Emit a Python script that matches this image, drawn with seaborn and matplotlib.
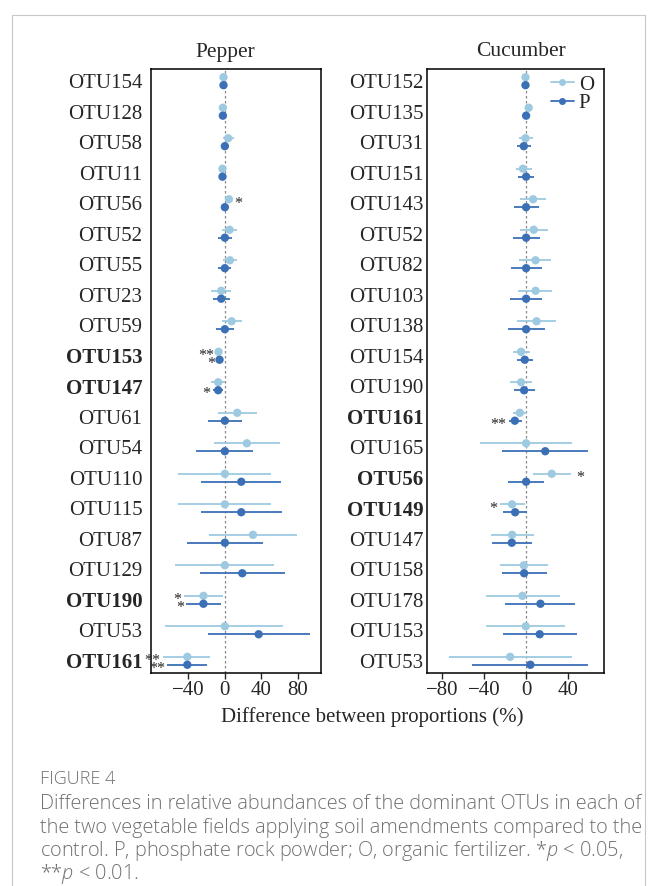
"""
Figure 4 — differences in relative abundance of dominant OTUs
(Pepper / Cucumber fields, O = organic fertilizer, P = phosphate rock powder)
"""
import matplotlib.pyplot as plt
import numpy as np
import pandas as pd
import seaborn as sns
from matplotlib.lines import Line2D
from matplotlib.patches import Rectangle

# ---------------------------------------------------------------------------
# data (% difference vs control, with CI bounds)
# ---------------------------------------------------------------------------
PEPPER_OTU = ["OTU154", "OTU128", "OTU58", "OTU11", "OTU56", "OTU52", "OTU55",
              "OTU23", "OTU59", "OTU153", "OTU147", "OTU61", "OTU54", "OTU110",
              "OTU115", "OTU87", "OTU129", "OTU190", "OTU53", "OTU161"]
PEPPER_O = [-1.5, -2.2, 3.6, -2.6, 4.4, 5.1, 5.5, -4, 7.3, -6.9,
            -7.3, 13.5, 24, 0, 0, 30.7, 0, -23.4, 0, -41]
PEPPER_O_LO = [-2.5, -3, -1.5, -3.5, 3.4, -2.9, -2.2, -14.6, -3.6, -9,
               -15, -7.7, -12, -50.7, -50.7, -17, -54, -45, -65, -68]
PEPPER_O_HI = [-0.5, -1.4, 9.5, -1.7, 5.4, 13.5, 13.5, 6.9, 19, -5,
               0, 35, 60, 50.7, 50.7, 79, 54, -1.5, 64, -16]
PEPPER_P = [-1.5, -2.2, 0, -2.6, 0, 0, 0, -4, 0, -5.8,
            -7.3, 0, 0, 17.9, 17.9, 0, 19, -23.4, 36.9, -41]
PEPPER_P_LO = [-2.5, -3, -4.4, -3.5, -1, -7.3, -7.3, -13, -10.2, -7.5,
               -13, -18.6, -31, -26, -26, -41.6, -27.7, -42, -18.6, -63]
PEPPER_P_HI = [-0.5, -1.4, 4.4, -1.7, 1, 7.3, 6.9, 5.1, 10.2, -4,
               -1.5, 18.6, 31, 61.7, 62, 41.6, 65.7, -4, 93, -19.7]
PEPPER_BOLD = ["OTU153", "OTU147", "OTU190", "OTU161"]
# (otu, group, stars, side)
PEPPER_STARS = [("OTU56", "O", "*", "right"),
                ("OTU153", "O", "**", "left"), ("OTU153", "P", "*", "left"),
                ("OTU147", "P", "*", "left"),
                ("OTU190", "O", "*", "left"), ("OTU190", "P", "*", "left"),
                ("OTU161", "O", "**", "left"), ("OTU161", "P", "**", "left")]

CUC_OTU = ["OTU152", "OTU135", "OTU31", "OTU151", "OTU143", "OTU52", "OTU82",
           "OTU103", "OTU138", "OTU154", "OTU190", "OTU161", "OTU165", "OTU56",
           "OTU149", "OTU147", "OTU158", "OTU178", "OTU153", "OTU53"]
CUC_O = [-0.6, 2.5, -0.6, -3, 6.7, 7.3, 9, 9, 10, -4.8,
         -4.8, -6, 0, 24.5, -13.4, -13.4, -2.2, -3.5, -0.3, -15.3]
CUC_O_LO = [-1.5, 1, -7, -10, -5.4, -6, -7, -7.3, -8.6, -13,
            -15, -13, -44, 7, -25, -34, -25, -38.6, -38, -74]
CUC_O_HI = [0.5, 4, 6.7, 5.7, 19.5, 20.7, 24, 25, 28.7, 4,
            5.7, 1, 44, 43, -1.3, 8, 21, 32, 37, 44]
CUC_P = [-0.6, 0, -2.2, 0, 0, 0, 0, 0, 0, -1.3,
         -1.9, -10.8, 18.3, 0, -10.5, -13.7, -1.9, 13.7, 13, 4.1]
CUC_P_LO = [-1.5, -1.5, -9, -7.6, -11.8, -12.4, -14.7, -15.3, -17, -8.6,
            -11.5, -16.6, -23, -17, -22, -33, -23, -19.8, -22, -52]
CUC_P_HI = [0.5, 1.5, 4.8, 7.3, 12.4, 13, 15.3, 15.6, 17.9, 6.7,
            8.3, -3.8, 59.5, 17, 1, 6, 20, 47, 49, 59.6]
CUC_BOLD = ["OTU161", "OTU56", "OTU149"]
CUC_STARS = [("OTU161", "P", "**", "left"),
             ("OTU56", "O", "*", "right"),
             ("OTU149", "O", "*", "left")]

PALETTE = {"O": "#9ecae1", "P": "#3b6fb6"}
OFFSET = {"O": -0.13, "P": 0.13}
W, H = 656, 886


def long_frame(otus, o, o_lo, o_hi, p, p_lo, p_hi):
    rows = []
    for i, otu in enumerate(otus):
        for grp, m, lo, hi in (("O", o[i], o_lo[i], o_hi[i]),
                               ("P", p[i], p_lo[i], p_hi[i])):
            rows.append({"otu": otu, "row": i, "group": grp, "diff": m,
                         "lo": lo, "hi": hi, "y": i + OFFSET[grp]})
    return pd.DataFrame(rows)


def draw_panel(ax, df, otus, bold, stars, xlim, xticks, ypad):
    ax.axvline(0, color="#8a8a8a", ls=(0, (2, 2)), lw=0.9, zorder=1)
    for grp, sub in df.groupby("group"):
        ax.hlines(sub["y"], sub["lo"], sub["hi"], color=PALETTE[grp],
                  lw=1.3, zorder=2)
    sns.scatterplot(data=df, x="diff", y="y", hue="group", palette=PALETTE,
                    s=36, edgecolor="none", legend=False, zorder=3, ax=ax)
    ax.set_xlim(*xlim)
    ax.set_ylim(len(otus) - 0.6, -0.4)
    ax.set_xticks(xticks)
    ax.set_yticks(range(len(otus)))
    ax.set_yticklabels(otus)
    for lab in ax.get_yticklabels():
        if lab.get_text() in bold:
            lab.set_fontweight("bold")
    ax.set_xlabel("")
    ax.set_ylabel("")
    ax.tick_params(axis="y", length=0, pad=ypad, labelsize=15)
    ax.tick_params(axis="x", length=4, width=1, pad=2, labelsize=15)
    for sp in ax.spines.values():
        sp.set_visible(True)
        sp.set_linewidth(1.1)
        sp.set_color("black")

    idx = df.set_index(["otu", "group"])
    for otu, grp, txt, side in stars:
        r = idx.loc[(otu, grp)]
        if side == "left":
            ax.text(r["lo"] - 2.5, r["y"] + 0.14, txt, ha="right", va="center",
                    fontsize=11.5, clip_on=False)
        else:
            ax.text(r["hi"] + 5, r["y"] + 0.14, txt, ha="left", va="center",
                    fontsize=11.5, clip_on=False)


def main():
    sns.set_theme(style="ticks")
    plt.rcParams["font.family"] = ["Liberation Serif", "DejaVu Serif"]
    plt.rcParams["mathtext.fontset"] = "custom"
    plt.rcParams["mathtext.rm"] = "Open Sans"
    plt.rcParams["mathtext.it"] = "Open Sans:italic:light"

    fig = plt.figure(figsize=(W / 100, H / 100), dpi=100)
    fig.patch.set_facecolor("white")

    ax1 = fig.add_axes([150.7 / W, 1 - 673 / H, 170.3 / W, 604 / H])
    ax2 = fig.add_axes([427.3 / W, 1 - 673 / H, 176.7 / W, 604 / H])

    pep = long_frame(PEPPER_OTU, PEPPER_O, PEPPER_O_LO, PEPPER_O_HI,
                     PEPPER_P, PEPPER_P_LO, PEPPER_P_HI)
    cuc = long_frame(CUC_OTU, CUC_O, CUC_O_LO, CUC_O_HI,
                     CUC_P, CUC_P_LO, CUC_P_HI)

    draw_panel(ax1, pep, PEPPER_OTU, PEPPER_BOLD, PEPPER_STARS,
               (-81, 105), [-40, 0, 40, 80], ypad=6)
    draw_panel(ax2, cuc, CUC_OTU, CUC_BOLD, CUC_STARS,
               (-94.5, 74.5), [-80, -40, 0, 40], ypad=3)

    handles = [Line2D([], [], color=PALETTE[g], marker="o", ms=4, lw=1.3)
               for g in ("O", "P")]
    ax2.legend(handles, ["O", "P"], loc="upper right", frameon=False,
               bbox_to_anchor=(1 - 8 / 176.7, 1 - 4 / 604),
               fontsize=15, handlelength=1.1, handletextpad=0.25,
               labelspacing=-0.05, borderaxespad=0.0, borderpad=0.1)

    fig.text(225 / W, 1 - 52 / H, "Pepper", ha="center", va="center", fontsize=15.5)
    fig.text(521 / W, 1 - 52 / H, "Cucumber", ha="center", va="center", fontsize=15.5)
    fig.text(372 / W, 1 - 717 / H, "Difference between proportions (%)",
             ha="center", va="center", fontsize=15)

    # page frame + caption
    fig.add_artist(Rectangle((12 / W, -0.05), 633 / W, 1.05 - 15 / H,
                             transform=fig.transFigure, fill=False,
                             edgecolor="#c8c8c8", lw=0.8))
    cap = dict(family=["Open Sans", "DejaVu Sans"], color="#707070",
               fontweight="light", ha="left", va="center")
    fig.text(40 / W, 1 - 779 / H, "FIGURE 4", fontsize=13, **cap)
    lines = [
        "Differences in relative abundances of the dominant OTUs in each of",
        "the two vegetable fields applying soil amendments compared to the",
        "control. P, phosphate rock powder; O, organic fertilizer. *$p$ < 0.05,",
        "**$p$ < 0.01.",
    ]
    for k, line in enumerate(lines):
        fig.text(40 / W, 1 - (804 + 23.5 * k) / H, line, fontsize=14.3, **cap)

    fig.savefig("out.png", dpi=100)
    plt.close(fig)


if __name__ == "__main__":
    main()
